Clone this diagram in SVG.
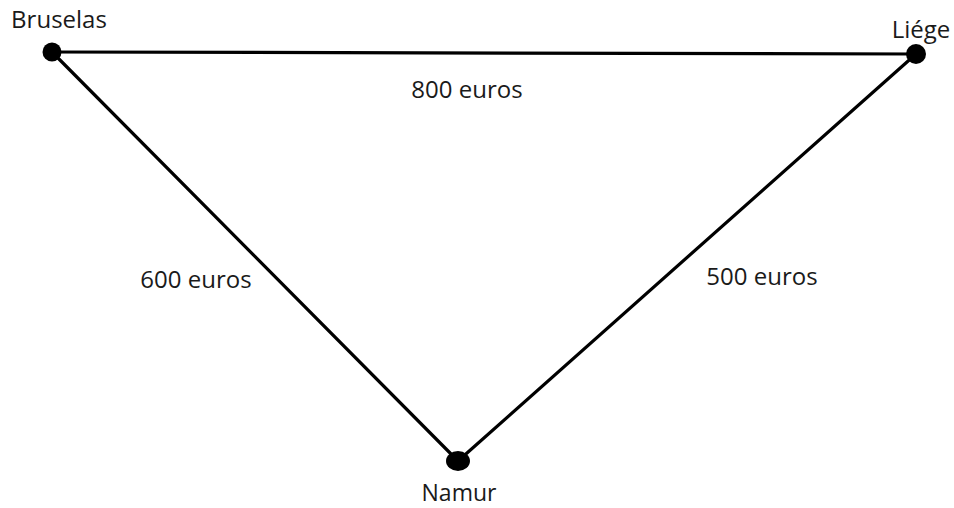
<svg xmlns="http://www.w3.org/2000/svg" width="954" height="508" viewBox="0 0 954 508">
<style>
.edge{stroke:#000;stroke-width:3.2;fill:none;stroke-linecap:round}
.dot{fill:#000}
.lbl{font-family:"Open Sans","Liberation Sans",sans-serif;font-size:24px;fill:#1a1a1a}
</style>
<rect width="954" height="508" fill="#fff"/>
<g id="connectors">
<line class="edge" x1="52" y1="52" x2="916" y2="54"/>
<line class="edge" x1="52" y1="52" x2="458" y2="461"/>
<line class="edge" x1="916" y1="54" x2="458" y2="461"/>
<text class="lbl" x="467" y="98" text-anchor="middle">800 euros</text>
<text class="lbl" x="196" y="288" text-anchor="middle">600 euros</text>
<text class="lbl" x="762" y="285" text-anchor="middle">500 euros</text>
</g>
<g id="bruselas">
<circle class="dot" cx="52" cy="52" r="9.5"/>
<text class="lbl" x="59" y="28" text-anchor="middle">Bruselas</text>
</g>
<g id="liege">
<circle class="dot" cx="916" cy="54" r="10"/>
<text class="lbl" x="921" y="38" text-anchor="middle">Liége</text>
</g>
<g id="namur">
<ellipse class="dot" cx="458" cy="461" rx="12" ry="10"/>
<text class="lbl" x="459" y="501" text-anchor="middle" style="font-size:23px">Namur</text>
</g>
</svg>
